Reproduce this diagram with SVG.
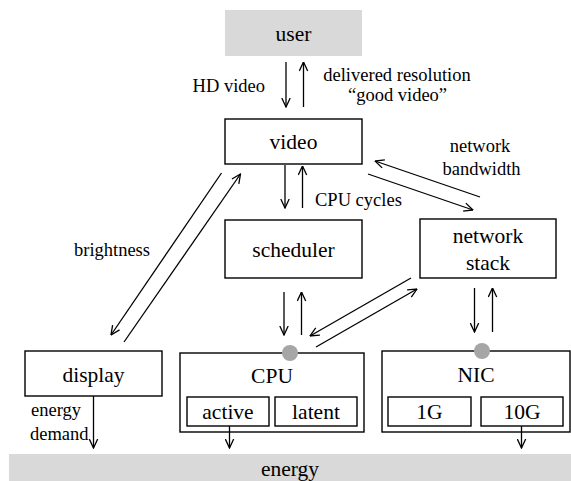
<svg xmlns="http://www.w3.org/2000/svg" width="571" height="481" viewBox="0 0 571 481">
<defs>
<marker id="arr" viewBox="0 0 10 10" refX="9.5" refY="5" markerWidth="10" markerHeight="10" markerUnits="userSpaceOnUse" orient="auto">
<path d="M0.5,0.8 L9.5,5 L0.5,9.2" fill="none" stroke="#000" stroke-width="1.3"/>
</marker>
<style>
.box{fill:#fff;stroke:#000;stroke-width:1.4}
.gbox{fill:#d9d9d9;stroke:none}
.dot{fill:#a6a6a6;stroke:none}
.nl{font-family:"Liberation Serif","Times New Roman",serif;font-size:21.5px;fill:#000;text-anchor:middle}
.el{font-family:"Liberation Serif","Times New Roman",serif;font-size:18.5px;fill:#000}
.c{fill:none;stroke:#000;stroke-width:1.3;marker-end:url(#arr)}
</style>
</defs>
<rect width="571" height="481" fill="#fff"/>
<g id="user"><rect class="gbox" x="225" y="10" width="137" height="46"/><text class="nl" x="293.5" y="41">user</text></g>
<g id="video"><rect class="box" x="225" y="119" width="137" height="45"/><text class="nl" x="293.5" y="149">video</text></g>
<g id="scheduler"><rect class="box" x="225" y="220" width="137" height="58"/><text class="nl" x="293.5" y="257">scheduler</text></g>
<g id="network-stack"><rect class="box" x="420" y="219" width="136" height="59"/><text class="nl" x="488" y="243">network</text><text class="nl" x="488" y="270">stack</text></g>
<g id="display"><rect class="box" x="25" y="351" width="137" height="45"/><text class="nl" x="93.5" y="382">display</text></g>
<g id="cpu"><rect class="box" x="180" y="353" width="184" height="79"/><text class="nl" x="272" y="383">CPU</text>
<g id="active"><rect class="box" x="187" y="397" width="82" height="29"/><text class="nl" x="228" y="419">active</text></g>
<g id="latent"><rect class="box" x="275" y="397" width="82" height="29"/><text class="nl" x="316" y="419">latent</text></g>
<circle class="dot" cx="290" cy="353" r="8"/></g>
<g id="nic"><rect class="box" x="382" y="351" width="188" height="81"/><text class="nl" x="476" y="382">NIC</text>
<g id="nic-1g"><rect class="box" x="388" y="397" width="83" height="29"/><text class="nl" x="429.5" y="419">1G</text></g>
<g id="nic-10g"><rect class="box" x="481" y="397" width="82" height="29"/><text class="nl" x="522" y="419">10G</text></g>
<circle class="dot" cx="482" cy="351" r="8"/></g>
<g id="energy"><rect class="gbox" x="9" y="454" width="562" height="27"/><text class="nl" x="290" y="476">energy</text></g>
<g id="connectors">
<line class="c" x1="286" y1="62" x2="286" y2="107"/>
<line class="c" x1="303.5" y1="107" x2="303.5" y2="62"/>
<line class="c" x1="285" y1="165" x2="285" y2="208"/>
<line class="c" x1="302.5" y1="208" x2="302.5" y2="166"/>
<line class="c" x1="284" y1="292" x2="284" y2="335"/>
<line class="c" x1="301.5" y1="335" x2="301.5" y2="292"/>
<line class="c" x1="368" y1="174" x2="473" y2="210"/>
<line class="c" x1="480" y1="197" x2="375" y2="161"/>
<line class="c" x1="411" y1="278" x2="310" y2="336"/>
<line class="c" x1="316" y1="347" x2="417" y2="289"/>
<line class="c" x1="474.5" y1="288" x2="474.5" y2="332"/>
<line class="c" x1="492.5" y1="332" x2="492.5" y2="288"/>
<line class="c" x1="221.5" y1="173" x2="111" y2="335"/>
<line class="c" x1="124" y1="342" x2="240.5" y2="174"/>
<line class="c" x1="93.5" y1="396" x2="93.5" y2="448"/>
<line class="c" x1="229.5" y1="426" x2="229.5" y2="448"/>
<line class="c" x1="521.5" y1="426" x2="521.5" y2="448"/>
<text class="el" x="265" y="92" text-anchor="end">HD video</text>
<text class="el" x="397" y="81" text-anchor="middle">delivered resolution</text>
<text class="el" x="397.5" y="101" text-anchor="middle">“good video”</text>
<text class="el" x="315" y="206">CPU cycles</text>
<text class="el" x="480" y="152" text-anchor="middle">network</text>
<text class="el" x="481.5" y="175" text-anchor="middle">bandwidth</text>
<text class="el" x="112" y="256" text-anchor="middle">brightness</text>
<text class="el" x="31" y="416">energy</text>
<text class="el" x="30" y="440">demand</text>
</g>
</svg>
